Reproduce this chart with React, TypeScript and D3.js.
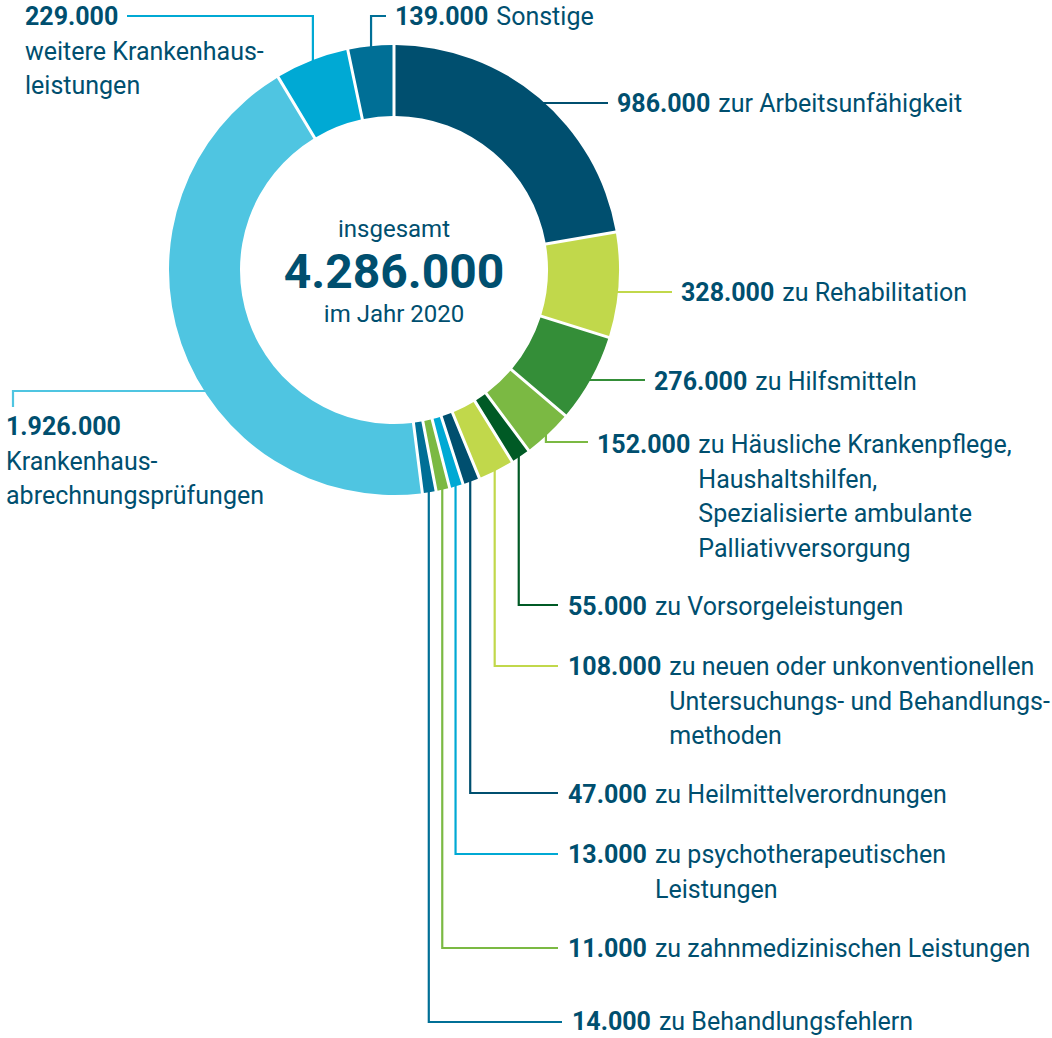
import React, { useEffect, useRef } from 'react';
import * as d3 from 'd3';

// Fälle 2020, im Uhrzeigersinn ab 12 Uhr
const values = [986000, 328000, 276000, 152000, 55000, 108000, 47000, 13000, 11000, 14000, 1926000, 229000, 139000];
const labelLines = [
  ['zur Arbeitsunfähigkeit'],
  ['zu Rehabilitation'],
  ['zu Hilfsmitteln'],
  ['zu Häusliche Krankenpflege,', 'Haushaltshilfen,', 'Spezialisierte ambulante', 'Palliativversorgung'],
  ['zu Vorsorgeleistungen'],
  ['zu neuen oder unkonventionellen', 'Untersuchungs- und Behandlungs-', 'methoden'],
  ['zu Heilmittelverordnungen'],
  ['zu psychotherapeutischen', 'Leistungen'],
  ['zu zahnmedizinischen Leistungen'],
  ['zu Behandlungsfehlern'],
  ['Krankenhaus-', 'abrechnungsprüfungen'],
  ['weitere Krankenhaus-', 'leistungen'],
  ['Sonstige']
];
const colors = [
  '#004f6f', '#c1d84b', '#348e38', '#7bb943', '#005a25', '#c1d84b', '#004f6f',
  '#00a9d4', '#7bb943', '#006f96', '#4fc5e1', '#00a9d4', '#006f96'
];
const total = 4286000;
const centerLines = ['insgesamt', 'im Jahr 2020'];

// Position der Beschriftungen
const layout = [
  { kind: 'h', y: 103, end: 608, x: 617, base: 112 },
  { kind: 'h', y: 292, end: 672, x: 681, base: 301 },
  { kind: 'h', y: 380, end: 645, x: 654, base: 390 },
  { kind: 'v', y: 442, end: 588, x: 597, base: 453 },
  { kind: 'v', y: 605, end: 558, x: 568, base: 615 },
  { kind: 'v', y: 666, end: 558, x: 568, base: 675 },
  { kind: 'v', y: 793, end: 558, x: 568, base: 803 },
  { kind: 'v', y: 854, end: 558, x: 568, base: 863 },
  { kind: 'v', y: 948, end: 558, x: 568, base: 957 },
  { kind: 'v', y: 1022, end: 562, x: 572, base: 1030 },
  { kind: 'left', y: 391, end: 13, drop: 407, x: 6, base: 435, stacked: true },
  { kind: 'v', y: 16, end: 127, x: 25, base: 25, stacked: true },
  { kind: 'v', y: 16, end: 386, x: 395, base: 25 }
];

const W = 1052;
const H = 1038;
const cx = 394;
const cy = 270;
const outerR = 225;
const innerR = 154;
const textColor = '#004f6f';
const font = 'Roboto, "Open Sans", sans-serif';
const fontSize = 25;
const lineGap = 34.7;

const App = () => {
  const chartRef = useRef<SVGSVGElement>(null);

  useEffect(() => {
    drawChart();
  }, []);

  const drawChart = () => {
    const svg = d3.select(chartRef.current);
    svg.selectAll('*').remove();

    const de = d3.formatLocale({ decimal: ',', thousands: '.', grouping: [3], currency: ['', ' €'] });
    const fmt = de.format(',d');

    // kleine Segmente bekommen eine Mindestbreite
    const minValue = total * 0.0084;
    const pie = d3
      .pie<number>()
      .sort(null)
      .value(d => Math.max(d, minValue))
      .padAngle(0.011);
    const arcs = pie(values);

    const arc = d3.arc<d3.PieArcDatum<number>>().innerRadius(innerR).outerRadius(outerR);

    const g = svg.append('g');

    // Verbindungslinien
    arcs.forEach((a, i) => {
      const l = layout[i];
      const mid = (a.startAngle + a.endAngle) / 2;
      const path = d3.path();
      if (l.kind === 'h') {
        const x0 = cx + Math.sqrt(outerR * outerR - (l.y - cy) ** 2) - 4;
        path.moveTo(x0, l.y);
        path.lineTo(l.end, l.y);
      } else if (l.kind === 'left') {
        const x0 = cx - Math.sqrt(outerR * outerR - (l.y - cy) ** 2) + 4;
        path.moveTo(x0, l.y);
        path.lineTo(l.end, l.y);
        path.lineTo(l.end, l.drop!);
      } else {
        const vx = cx + (outerR - 3) * Math.sin(mid);
        const vy = cy - (outerR - 3) * Math.cos(mid);
        path.moveTo(vx, vy);
        path.lineTo(vx, l.y);
        path.lineTo(l.end, l.y);
      }
      g.append('path')
        .attr('d', path.toString())
        .attr('fill', 'none')
        .attr('stroke', colors[i])
        .attr('stroke-width', 2.2);
    });

    g.append('g')
      .attr('transform', `translate(${cx},${cy})`)
      .selectAll('path')
      .data(arcs)
      .enter()
      .append('path')
      .attr('d', arc)
      .attr('fill', (d, i) => colors[i]);

    // Beschriftungen
    arcs.forEach((a, i) => {
      const l = layout[i];
      const lines = labelLines[i];
      const t = g
        .append('text')
        .attr('x', l.x)
        .attr('y', l.base)
        .attr('font-family', font)
        .attr('font-size', fontSize)
        .attr('fill', textColor);
      const num = t.append('tspan').attr('font-weight', 700).text(fmt(values[i]));

      if (l.stacked) {
        lines.forEach((line, k) => {
          g.append('text')
            .attr('x', l.x)
            .attr('y', l.base + (k + 1) * lineGap)
            .attr('font-family', font)
            .attr('font-size', fontSize)
            .attr('fill', textColor)
            .text(line);
        });
        return;
      }

      t.append('tspan').attr('dx', 8).text(lines[0]);
      const numW = (num.node() as SVGTextContentElement).getComputedTextLength();
      lines.slice(1).forEach((line, k) => {
        g.append('text')
          .attr('x', l.x + numW + 8)
          .attr('y', l.base + (k + 1) * lineGap)
          .attr('font-family', font)
          .attr('font-size', fontSize)
          .attr('fill', textColor)
          .text(line);
      });
    });

    // Mitte
    const c = g.append('g').attr('text-anchor', 'middle').attr('font-family', font).attr('fill', textColor);
    c.append('text').attr('x', cx).attr('y', 237).attr('font-size', 24).text(centerLines[0]);
    c.append('text')
      .attr('x', cx)
      .attr('y', 288)
      .attr('font-size', 48)
      .attr('font-weight', 700)
      .text(fmt(total));
    c.append('text').attr('x', cx).attr('y', 322).attr('font-size', 24).text(centerLines[1]);
  };

  return (
    <svg
      ref={chartRef}
      width={W}
      height={H}
      style={{ position: 'absolute', left: 0, top: 0, background: '#fff' }}
    ></svg>
  );
};

export default App;
